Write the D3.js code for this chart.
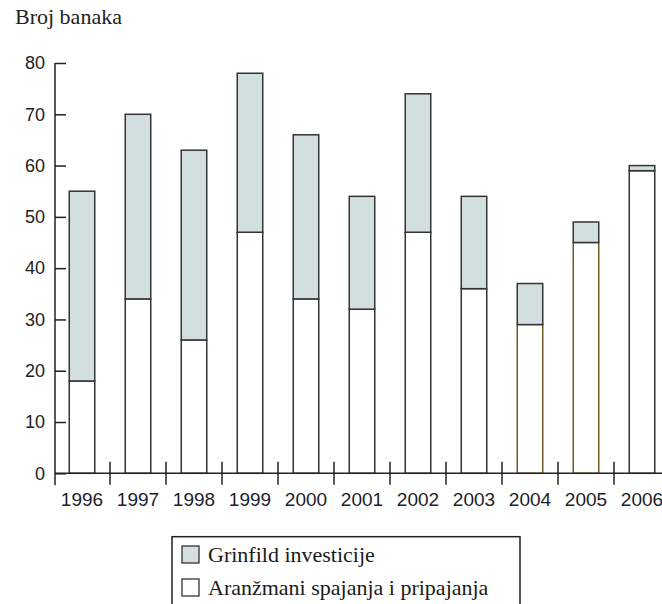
<!DOCTYPE html>
<html>
<head>
<meta charset="utf-8">
<script src="https://cdn.jsdelivr.net/npm/d3@7"></script>
<style>
  body { margin: 0; background: #fff; }
  svg { display: block; }
</style>
</head>
<body>
<svg id="chart" width="662" height="604"></svg>
<script>
// podaci: broj banaka po godinama
const godine = ["1996", "1997", "1998", "1999", "2000", "2001", "2002", "2003", "2004", "2005", "2006"];
const spajanja = [18, 34, 26, 47, 34, 32, 47, 36, 29, 45, 59];
const grinfild = [37, 36, 37, 31, 32, 22, 27, 18, 8, 4, 1];
const yTicks = [0, 10, 20, 30, 40, 50, 60, 70, 80];
const legendaNazivi = ["Grinfild investicije", "Aranžmani spajanja i pripajanja"];

const svg = d3.select("#chart");
const sans = "'Liberation Sans', Arial, sans-serif";
const serif = "'Liberation Serif', 'Times New Roman', serif";

const axisX = 55, axisY = 473.3;

const x = d3.scaleBand()
    .domain(godine)
    .range([54, 54 + 56 * godine.length])
    .paddingInner(0.545)
    .paddingOuter(0.2725);

const y = d3.scaleLinear().domain([0, 80]).range([axisY, 63]);

const rows = godine.map((g, i) => ({ godina: g, spajanja: spajanja[i], grinfild: grinfild[i] }));
const stack = d3.stack().keys(["spajanja", "grinfild"]);
const series = stack(rows);
const boje = { spajanja: "#ffffff", grinfild: "#d3dee0" };

// naslov
svg.append("text")
    .attr("x", 15).attr("y", 24)
    .style("font-family", serif).style("font-size", "22px")
    .attr("fill", "#222")
    .text("Broj banaka");

// stubici
series.forEach(s => {
    svg.append("g")
        .selectAll("rect")
        .data(s)
        .join("rect")
        .attr("x", d => x(d.data.godina))
        .attr("y", d => y(d[1]))
        .attr("width", x.bandwidth())
        .attr("height", d => y(d[0]) - y(d[1]))
        .attr("fill", boje[s.key])
        .attr("stroke", d => (s.key === "spajanja" && (d.data.godina === "2004" || d.data.godina === "2005")) ? "#6e5c22" : "#333")
        .attr("stroke-width", 1.5);
});

// y osa
const yAxis = svg.append("g")
    .attr("transform", `translate(${axisX},0)`)
    .call(d3.axisLeft(y).tickValues(yTicks).tickSizeInner(-11).tickSizeOuter(0).tickPadding(10));
yAxis.select(".domain").remove();
yAxis.selectAll(".tick line").attr("stroke", "#222").attr("stroke-width", 1.5);
yAxis.selectAll("text")
    .style("font-family", sans).style("font-size", "18px")
    .attr("fill", "#222");
svg.append("line")
    .attr("x1", axisX).attr("x2", axisX)
    .attr("y1", y(80)).attr("y2", axisY + 12)
    .attr("stroke", "#222").attr("stroke-width", 1.5);

// x osa
const xAxis = svg.append("g")
    .attr("transform", `translate(0,${axisY})`)
    .call(d3.axisBottom(x).tickSize(0).tickPadding(19));
xAxis.select(".domain").remove();
xAxis.selectAll("text")
    .style("font-family", sans).style("font-size", "19px")
    .attr("fill", "#1e1e2a");
svg.append("line")
    .attr("x1", axisX).attr("x2", 662)
    .attr("y1", axisY).attr("y2", axisY)
    .attr("stroke", "#222").attr("stroke-width", 1.5);
// crtice izmedju stubica
svg.append("g")
    .selectAll("line")
    .data(godine.slice(0, -1))
    .join("line")
    .attr("x1", d => x(d) + x.bandwidth() + x.step() * x.paddingInner() / 2)
    .attr("x2", d => x(d) + x.bandwidth() + x.step() * x.paddingInner() / 2)
    .attr("y1", axisY - 11.5)
    .attr("y2", axisY + 11.5)
    .attr("stroke", "#222").attr("stroke-width", 1.5);

// legenda
const leg = svg.append("g");
leg.append("rect")
    .attr("x", 172).attr("y", 536.7)
    .attr("width", 348).attr("height", 90)
    .attr("fill", "none").attr("stroke", "#222").attr("stroke-width", 1.5);
legendaNazivi.forEach((naziv, i) => {
    const key = i === 0 ? "grinfild" : "spajanja";
    leg.append("rect")
        .attr("x", 182).attr("y", 546 + i * 33)
        .attr("width", 17).attr("height", 17)
        .attr("fill", boje[key]).attr("stroke", "#333").attr("stroke-width", 1.3);
    leg.append("text")
        .attr("x", 208).attr("y", 561.5 + i * 33.5)
        .style("font-family", serif).style("font-size", "22px")
        .attr("fill", "#1a1a1a")
        .text(naziv);
});
</script>
</body>
</html>
